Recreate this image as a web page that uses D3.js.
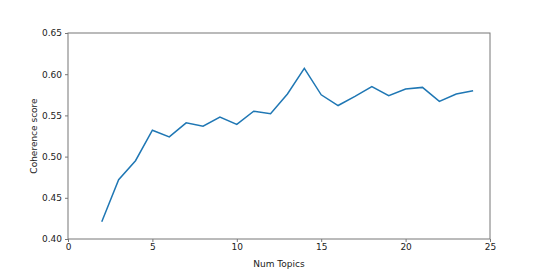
<!DOCTYPE html>
<html>
<head>
<meta charset="utf-8">
<script src="https://cdn.jsdelivr.net/npm/d3@7"></script>
<style>
  body { margin: 0; background: #fff; }
  text { font-family: "DejaVu Sans", sans-serif; }
</style>
</head>
<body>
<div id="chart"></div>
<script>
// data
let numTopics = [2, 3, 4, 5, 6, 7, 8, 9, 10, 11, 12, 13, 14, 15, 16, 17, 18, 19, 20, 21, 22, 23, 24];
let coherence = [0.421, 0.472, 0.495, 0.532, 0.524, 0.541, 0.537, 0.548, 0.539, 0.555, 0.552,
  0.576, 0.607, 0.575, 0.562, 0.573, 0.585, 0.574, 0.582, 0.584, 0.567, 0.576, 0.580];
let xTicks = [0, 5, 10, 15, 20, 25];
let yTicks = [0.40, 0.45, 0.50, 0.55, 0.60, 0.65];

let svgWidth = 545,
  svgHeight = 273;

let margins = { top: 33, right: 55, bottom: 34, left: 68 };
let chartWidth = svgWidth - margins.left - margins.right;
let chartHeight = svgHeight - margins.top - margins.bottom;

let svg = d3
  .select("#chart")
  .append("svg")
  .attr("width", svgWidth)
  .attr("height", svgHeight);

let chartGroup = svg
  .append("g")
  .attr("transform", `translate(${margins.left}, ${margins.top})`);

let xScale = d3.scaleLinear().domain([0, 25]).range([0, chartWidth]);
let yScale = d3.scaleLinear().domain([0.4, 0.65]).range([chartHeight, 0]);

let spineColor = "#777";

// axes
let bottomAxis = d3.axisBottom(xScale).tickValues(xTicks).tickSize(3).tickPadding(2).tickFormat(d3.format("d"));
let leftAxis = d3.axisLeft(yScale).tickValues(yTicks).tickSize(3).tickPadding(3).tickFormat(d3.format(".2f"));

let xAxisGroup = chartGroup
  .append("g")
  .attr("transform", `translate(0, ${chartHeight})`)
  .call(bottomAxis);

let yAxisGroup = chartGroup.append("g").call(leftAxis);

[xAxisGroup, yAxisGroup].forEach((g) => {
  g.select(".domain").remove();
  g.selectAll(".tick line").attr("stroke", spineColor);
  g.selectAll(".tick text").attr("font-size", "9px").attr("fill", "#222");
});

// frame
chartGroup
  .append("rect")
  .attr("x", 0)
  .attr("y", 0)
  .attr("width", chartWidth)
  .attr("height", chartHeight)
  .attr("fill", "none")
  .attr("stroke", spineColor)
  .attr("stroke-width", 1);

// line
let line = d3
  .line()
  .x((d, i) => xScale(numTopics[i]))
  .y((d) => yScale(d));

chartGroup
  .append("path")
  .datum(coherence)
  .attr("d", line)
  .attr("fill", "none")
  .attr("stroke", "#1f77b4")
  .attr("stroke-width", 1.5);

// axis labels
chartGroup
  .append("text")
  .attr("x", chartWidth / 2)
  .attr("y", chartHeight + 28)
  .attr("text-anchor", "middle")
  .attr("font-size", "9px")
  .attr("fill", "#222")
  .text("Num Topics");

chartGroup
  .append("text")
  .attr("transform", `translate(-31, ${chartHeight / 2}) rotate(-90)`)
  .attr("text-anchor", "middle")
  .attr("font-size", "9px")
  .attr("fill", "#222")
  .text("Coherence score");
</script>
</body>
</html>
